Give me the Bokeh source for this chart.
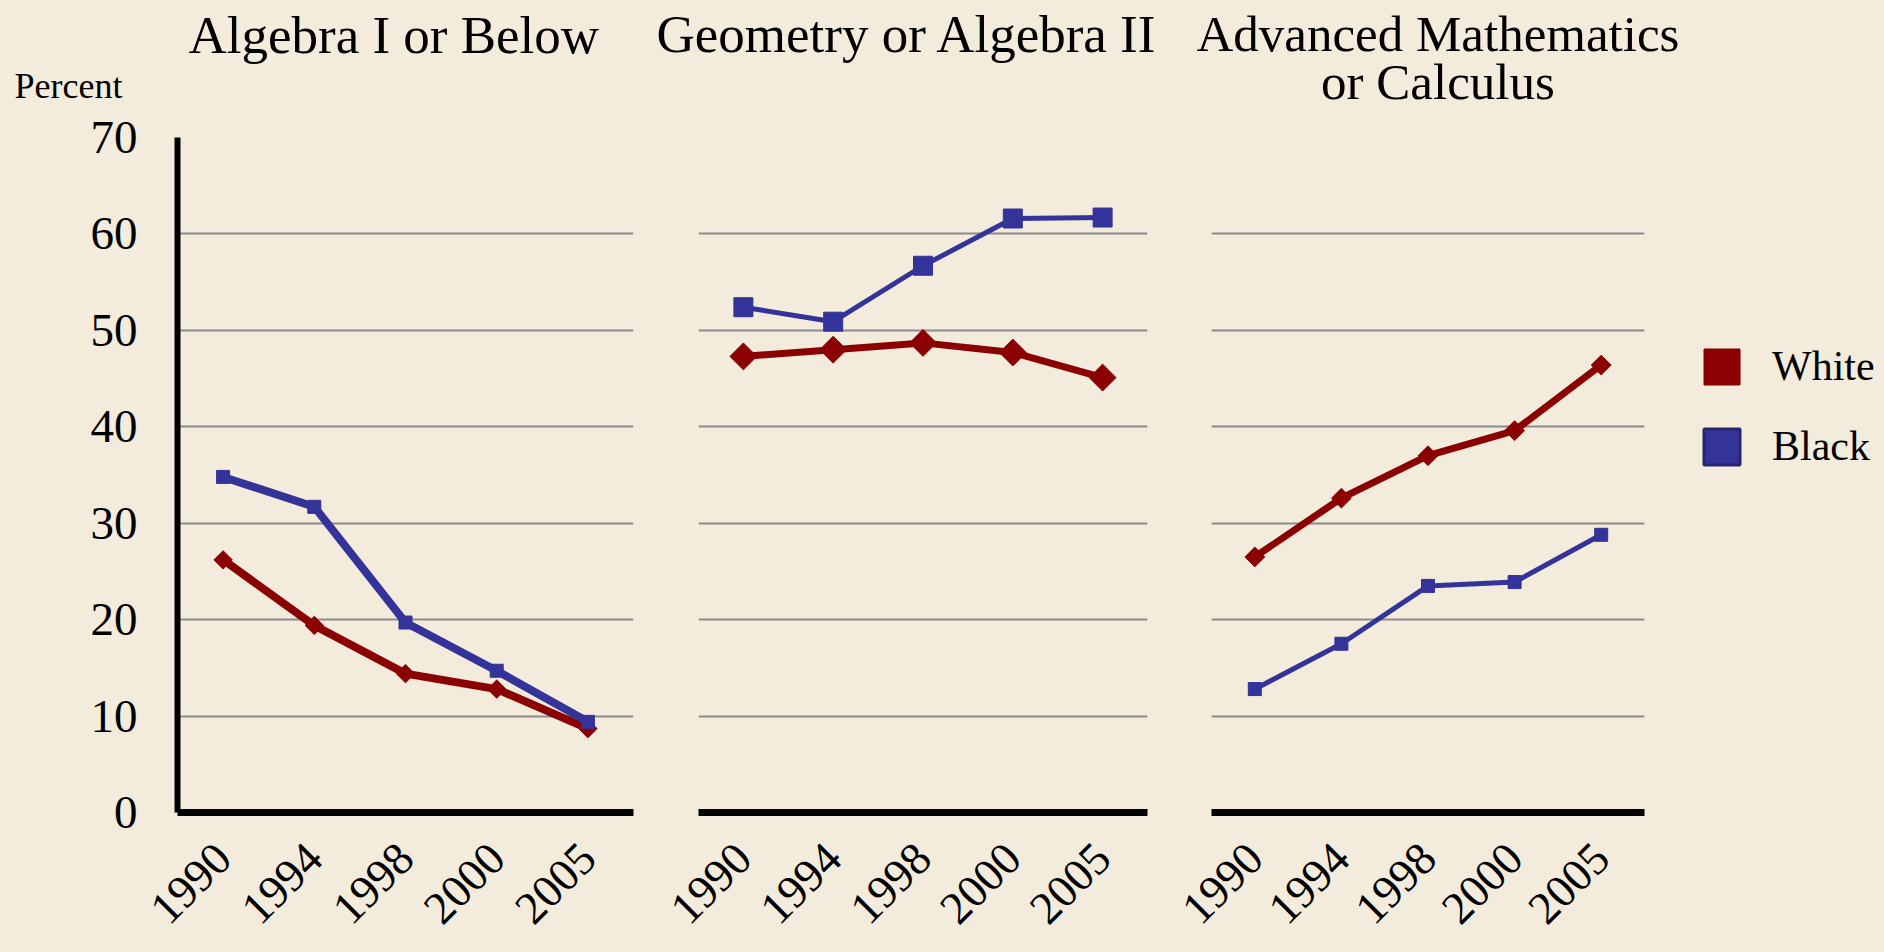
from math import pi
from bokeh.plotting import figure
from bokeh.layouts import row
from bokeh.models import FixedTicker, Legend, LegendItem, Title, Range1d
from bokeh.embed import file_html
from bokeh.resources import INLINE

# ---- data ----
years = ["1990", "1994", "1998", "2000", "2005"]
alg1_white = [26.2, 19.4, 14.4, 12.8, 8.7]
alg1_black = [34.8, 31.7, 19.7, 14.7, 9.4]
geo_white = [47.3, 48.0, 48.7, 47.7, 45.1]
geo_black = [52.4, 50.9, 56.7, 61.6, 61.7]
adv_white = [26.5, 32.6, 37.0, 39.6, 46.4]
adv_black = [12.8, 17.5, 23.5, 23.9, 28.8]
y_ticks = [0, 10, 20, 30, 40, 50, 60, 70]
grid_ticks = [10, 20, 30, 40, 50, 60, 70]
series_names = ["White", "Black"]
panel_titles = ["Algebra I or Below", "Geometry or Algebra II", "Advanced Mathematics", "or Calculus"]
y_title = "Percent"

BG = "#F3EBDC"
RED = "#8B0000"
BLUE = "#333399"
FONT = "Liberation Serif"

HAS_TEXT_ALIGN = "text_align" in Title.properties()


def make_panel(frame_w, bl, br, show_y):
    p = figure(x_range=years, y_range=(0, 70), frame_width=frame_w, frame_height=675,
               output_backend="svg", toolbar_location=None, title=None,
               min_border_left=bl, min_border_right=br,
               min_border_top=137, min_border_bottom=140,
               styles={"background-color": BG})
    p.background_fill_color = BG
    p.border_fill_color = BG
    p.outline_line_color = None
    p.x_range.range_padding = 0
    p.xgrid.visible = False
    p.ygrid.ticker = FixedTicker(ticks=grid_ticks)
    p.ygrid.grid_line_color = "#8c8c8c"
    p.ygrid.grid_line_width = 2
    xa = p.xaxis[0]
    xa.axis_line_color = "black"
    xa.axis_line_width = 7
    xa.major_tick_line_color = None
    xa.minor_tick_line_color = None
    xa.major_tick_out = 0
    xa.major_tick_in = 0
    xa.major_label_orientation = pi / 4
    xa.major_label_text_font = FONT
    xa.major_label_text_font_size = "46px"
    xa.major_label_text_color = "black"
    xa.major_label_standoff = 38
    ya = p.yaxis[0]
    ya.ticker = FixedTicker(ticks=y_ticks)
    if show_y:
        ya.axis_line_color = "black"
        ya.axis_line_width = 6
        ya.major_tick_line_color = None
        ya.minor_tick_line_color = None
        ya.major_label_text_font = FONT
        ya.major_label_text_font_size = "47px"
        ya.major_label_text_color = "black"
        ya.major_label_standoff = 34
    else:
        ya.visible = False
    return p


def add_series(p, white, black, wlw, wsz, blw, bsz):
    p.line(years, white, line_width=wlw, color=RED)
    p.scatter(years, white, marker="square", angle=pi / 4, size=wsz, color=RED)
    p.line(years, black, line_width=blw, color=BLUE)
    p.scatter(years, black, marker="square", size=bsz, color=BLUE)


def add_title(p, text, size, align="left", offset=0, standoff=0, line_height=1.0, center_lines=False):
    t = Title(text=text, text_font=FONT, text_font_size=size, text_color="black",
              text_font_style="normal", align=align, offset=offset,
              vertical_align="top", standoff=standoff, text_line_height=line_height)
    if center_lines and HAS_TEXT_ALIGN:
        t.text_align = "center"
    p.add_layout(t, "above")


def add_spacer(p, standoff):
    # blank title that only pushes the real titles up, away from the frame
    p.add_layout(Title(text=" ", text_font=FONT, text_font_size="10px", standoff=standoff,
                       vertical_align="top"), "above")


p1 = make_panel(456, 177, 20, True)
p2 = make_panel(449, 45, 20, False)
p3 = make_panel(433, 44, 240, False)

add_series(p1, alg1_white, alg1_black, 8, 13, 8, 13)
add_series(p2, geo_white, geo_black, 7, 19, 5, 19)
add_series(p3, adv_white, adv_black, 7, 14, 5, 13)

# panels in "above" stack from the frame upwards (first added = closest to frame)
add_spacer(p1, 17.4)
add_title(p1, y_title, "36px", "left", -163, 0)
add_title(p1, panel_titles[0], "53px", "left", 11, 0)

add_spacer(p2, 60.3)
add_title(p2, panel_titles[1], "53px", "left", -42, 0)

add_spacer(p3, 12.6)
if HAS_TEXT_ALIGN:
    t3 = panel_titles[2] + "\n" + panel_titles[3]
else:
    t3 = panel_titles[2] + "\n" + "\u00a0" * 10 + panel_titles[3]
add_title(p3, t3, "51px", "left", -15, 0, 0.862, center_lines=True)

# legend swatches: bars on a separate y range that lies outside the visible frame
p3.extra_y_ranges = {"swatch": Range1d(1000, 1001)}
rw = p3.vbar(x=years, top=adv_white, width=0.5, fill_color=RED, line_color="#7a0000",
             line_width=1, y_range_name="swatch")
rb = p3.vbar(x=years, top=adv_black, width=0.5, fill_color=BLUE, line_color="#262670",
             line_width=3, y_range_name="swatch")
legend = Legend(items=[LegendItem(label=series_names[0], renderers=[rw]),
                       LegendItem(label=series_names[1], renderers=[rb])],
                location=(55, 342), glyph_width=45, glyph_height=45, label_height=45,
                spacing=32, padding=0, margin=0, label_standoff=28,
                label_text_font=FONT, label_text_font_size="42px", label_text_color="black",
                border_line_color=None, background_fill_alpha=0)
p3.add_layout(legend, "right")

layout = row(p1, p2, p3, styles={"background-color": BG})
open("out.html", "w").write(file_html(layout, INLINE))
